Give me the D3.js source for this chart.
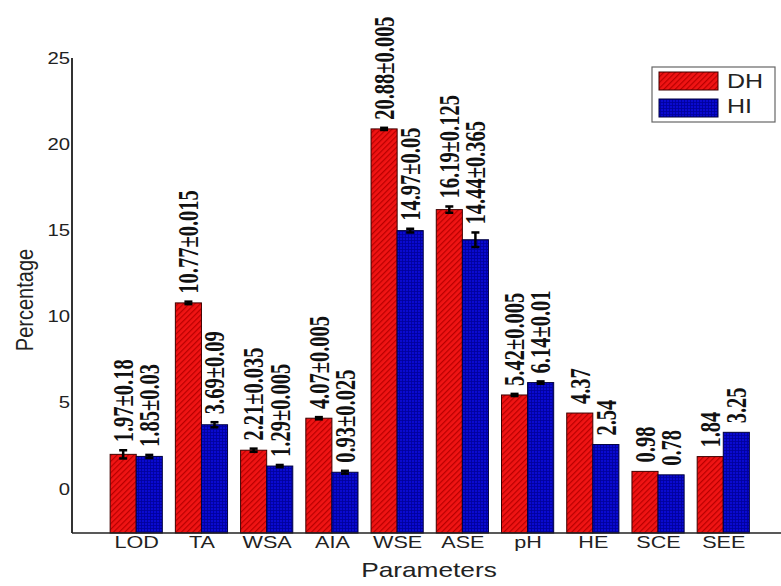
<!DOCTYPE html>
<html>
<head>
<meta charset="utf-8">
<script src="https://cdn.jsdelivr.net/npm/d3@7"></script>
<style>
  body { margin: 0; background: #fff; }
  svg { display: block; }
</style>
</head>
<body>
<script>
// categories and series
var categories = ["LOD", "TA", "WSA", "AIA", "WSE", "ASE", "pH", "HE", "SCE", "SEE"];
var seriesNames = ["DH", "HI"];
var dhValues = [1.97, 10.77, 2.21, 4.07, 20.88, 16.19, 5.42, 4.37, 0.98, 1.84];
var dhErrors = [0.18, 0.015, 0.035, 0.005, 0.005, 0.125, 0.005, 0, 0, 0];
var hiValues = [1.85, 3.69, 1.29, 0.93, 14.97, 14.44, 6.14, 2.54, 0.78, 3.25];
var hiErrors = [0.03, 0.09, 0.005, 0.025, 0.05, 0.365, 0.01, 0, 0, 0];
var yTicks = [0, 5, 10, 15, 20, 25];

var w = 781, h = 586;

var svg = d3.select("body").append("svg")
    .attr("width", w)
    .attr("height", h);

// patterns for the bar fills
var defs = svg.append("defs");
var redPat = defs.append("pattern")
    .attr("id", "hatchRed")
    .attr("patternUnits", "userSpaceOnUse")
    .attr("width", 4).attr("height", 4)
    .attr("patternTransform", "rotate(45)");
redPat.append("rect").attr("width", 4).attr("height", 4).attr("fill", "#f01414");
redPat.append("rect").attr("width", 1.2).attr("height", 4).attr("fill", "#b80000");

var bluePat = defs.append("pattern")
    .attr("id", "gridBlue")
    .attr("patternUnits", "userSpaceOnUse")
    .attr("width", 3).attr("height", 3);
bluePat.append("rect").attr("width", 3).attr("height", 3).attr("fill", "#0a0ad0");
bluePat.append("rect").attr("width", 3).attr("height", 0.8).attr("fill", "#00009a");
bluePat.append("rect").attr("width", 0.8).attr("height", 3).attr("fill", "#00009a");

var fills = ["url(#hatchRed)", "url(#gridBlue)"];

// scales
var x = d3.scaleLinear().domain([0, 11]).range([71, 788.5]);
var y = d3.scaleLinear().domain([-2.6, 25]).range([533, 58]);
var barW = x(0.4) - x(0);
var stretch = 1.27; // text in the picture is widened horizontally

var series = [
    { name: "DH", values: dhValues, errors: dhErrors, offset: -0.2 },
    { name: "HI", values: hiValues, errors: hiErrors, offset: 0.2 }
];

// bars
series.forEach(function(s, si){
    svg.selectAll(".bar" + si)
        .data(s.values)
        .enter()
        .append("rect")
        .attr("class", "bar" + si)
        .attr("x", function(d, i){ return x(i + 1 + s.offset) - barW / 2; })
        .attr("y", function(d){ return y(d); })
        .attr("width", barW)
        .attr("height", function(d){ return y(-2.6) - y(d); })
        .attr("fill", fills[si])
        .attr("stroke", si == 0 ? "#400000" : "#000040")
        .attr("stroke-width", 1);
});

// error bars
series.forEach(function(s, si){
    var eb = svg.selectAll(".err" + si)
        .data(s.values.map(function(v, i){ return { v: v, e: s.errors[i], i: i }; })
            .filter(function(d){ return d.e > 0; }))
        .enter()
        .append("g")
        .attr("class", "err" + si)
        .attr("stroke", "#000")
        .attr("stroke-width", 2.5);
    eb.append("line")
        .attr("x1", function(d){ return x(d.i + 1 + s.offset); })
        .attr("x2", function(d){ return x(d.i + 1 + s.offset); })
        .attr("y1", function(d){ return y(d.v - d.e) + 1; })
        .attr("y2", function(d){ return y(d.v + d.e) - 1; });
    [1, -1].forEach(function(sign){
        eb.append("line")
            .attr("x1", function(d){ return x(d.i + 1 + s.offset) - 4; })
            .attr("x2", function(d){ return x(d.i + 1 + s.offset) + 4; })
            .attr("y1", function(d){ return y(d.v + sign * d.e) - sign; })
            .attr("y2", function(d){ return y(d.v + sign * d.e) - sign; });
    });
});

// value labels, rotated
series.forEach(function(s, si){
    svg.selectAll(".lab" + si)
        .data(s.values)
        .enter()
        .append("text")
        .attr("class", "lab" + si)
        .attr("transform", function(d, i){
            return "translate(" + x(i + 1 + s.offset) + "," + (y(d + s.errors[i]) - 9) + ") rotate(-90) scale(1,1.45)";
        })
        .attr("dy", "0.33em")
        .attr("text-anchor", "start")
        .style("font-family", "'Liberation Serif', 'Times New Roman', serif")
        .style("font-weight", "bold")
        .style("font-size", "20.5px")
        .attr("fill", "#111")
        .text(function(d, i){
            return s.errors[i] > 0 ? d + "\u00b1" + s.errors[i] : String(d);
        });
});

// y axis
var yAxis = svg.append("g")
    .attr("transform", "translate(72,0)")
    .call(d3.axisLeft(y).tickValues(yTicks).tickSize(0).tickFormat(d3.format("d")));
yAxis.select(".domain").attr("stroke", "#333").attr("stroke-width", 2).attr("d", "M0," + y(25) + "V" + y(-2.6));
yAxis.selectAll("text")
    .attr("x", 0)
    .attr("dy", "0.36em")
    .attr("transform", "translate(-2,0) scale(" + stretch + ",1)")
    .style("font-family", "'Liberation Sans', Arial, sans-serif")
    .style("font-size", "16px")
    .attr("fill", "#222");

// x axis
var xAxis = svg.append("g")
    .attr("transform", "translate(0," + y(-2.6) + ")")
    .call(d3.axisBottom(x).tickValues(d3.range(1, 11)).tickSize(0)
        .tickFormat(function(d){ return categories[d - 1]; }));
xAxis.select(".domain").attr("stroke", "#222").attr("stroke-width", 1.5).attr("d", "M72,0H781");
xAxis.selectAll("text")
    .attr("y", 0)
    .attr("dy", 0)
    .attr("transform", "translate(0,15) scale(" + stretch + ",1)")
    .style("font-family", "'Liberation Sans', Arial, sans-serif")
    .style("font-size", "17px")
    .attr("fill", "#222");

// axis titles
svg.append("text")
    .attr("transform", "translate(429,577) scale(1.25,1)")
    .attr("text-anchor", "middle")
    .style("font-family", "'Liberation Sans', Arial, sans-serif")
    .style("font-size", "21px")
    .attr("fill", "#222")
    .text("Parameters");

svg.append("text")
    .attr("transform", "translate(33,300) rotate(-90) scale(1,1.15)")
    .attr("text-anchor", "middle")
    .style("font-family", "'Liberation Sans', Arial, sans-serif")
    .style("font-size", "20px")
    .attr("fill", "#222")
    .text("Percentage");

// legend
var legend = svg.append("g");
legend.append("rect")
    .attr("x", 652).attr("y", 67)
    .attr("width", 123).attr("height", 55)
    .attr("fill", "#fff")
    .attr("stroke", "#666")
    .attr("stroke-width", 1.2);
seriesNames.forEach(function(name, i){
    legend.append("rect")
        .attr("x", 659).attr("y", 72 + i * 27)
        .attr("width", 59).attr("height", 18)
        .attr("fill", fills[i])
        .attr("stroke", i == 0 ? "#400000" : "#000040");
    legend.append("text")
        .attr("transform", "translate(727," + (88 + i * 25) + ") scale(1.25,1)")
        .style("font-family", "'Liberation Sans', Arial, sans-serif")
        .style("font-size", "20px")
        .attr("fill", "#222")
        .text(name);
});
</script>
</body>
</html>
